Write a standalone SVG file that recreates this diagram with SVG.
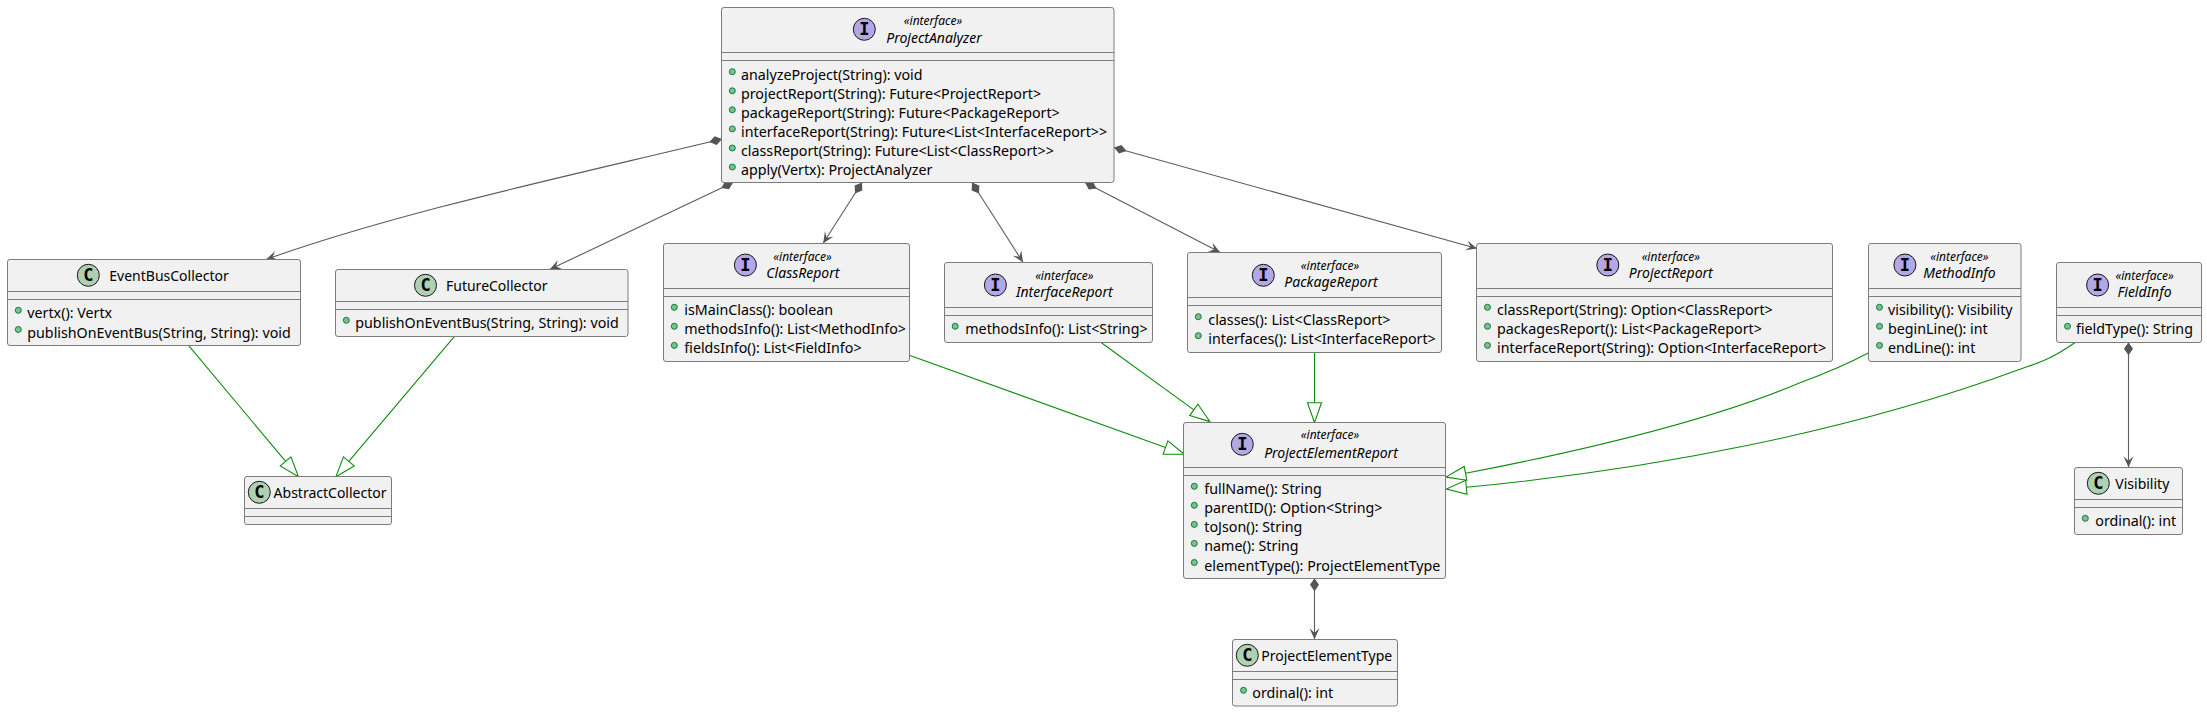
<svg xmlns="http://www.w3.org/2000/svg" width="2207" height="712" viewBox="0 0 2207 712">
<style>
text{font-family:"Noto Sans",sans-serif;font-size:14.25px;fill:#000}
.box{fill:#F1F1F1;stroke:#7c7c7c;stroke-width:1}
.sep{stroke:#7c7c7c;stroke-width:1;fill:none}
.b{fill:#84BE84;stroke:#038048;stroke-width:1}
.ci{fill:#ADD1B2;stroke:#181818;stroke-width:1}
.ii{fill:#B4A7E5;stroke:#181818;stroke-width:1}
text.g{font-family:"DejaVu Sans Mono",monospace;font-weight:bold;font-size:17px;text-anchor:middle}
text.st{font-size:12px;font-style:italic;text-anchor:middle}
text.nm{font-size:14px;font-style:italic;text-anchor:middle}
text.n{font-size:14px}
.comp{fill:none;stroke:#5c5c5c;stroke-width:1.100;marker-start:url(#dia);marker-end:url(#arr)}
.ext{fill:none;stroke:#0c8c0c;stroke-width:1.100;marker-end:url(#tri)}
</style>
<defs>
<marker id="dia" markerUnits="userSpaceOnUse" markerWidth="14" markerHeight="10" refX="0" refY="5" orient="auto" overflow="visible"><path d="M0,5L6.500,0.500L13,5L6.500,9.500Z" fill="#555"/></marker>
<marker id="arr" markerUnits="userSpaceOnUse" markerWidth="12" markerHeight="12" refX="11" refY="6" orient="auto" overflow="visible"><path d="M11,6L0,1L4.500,6L0,11Z" fill="#555"/></marker>
<marker id="tri" markerUnits="userSpaceOnUse" markerWidth="22" markerHeight="16" refX="0" refY="8" orient="auto" overflow="visible"><path d="M0,1L20,8L0,15Z" fill="none" stroke="#0c8c0c" stroke-width="1.100"/></marker>
</defs>
<g id="connectors">
<path class="comp" d="M722,139C560,178 400,212 266.400,259.300"/>
<path class="comp" d="M733,182.500L550,269.300"/>
<path class="comp" d="M862,182.500L823.200,243.300"/>
<path class="comp" d="M972,182.500L1023,262.300"/>
<path class="comp" d="M1085,182.500L1220,252.300"/>
<path class="comp" d="M1114,147.500L1477,248.500"/>
<path class="comp" d="M1314.500,578.300V639.300"/>
<path class="comp" d="M2128.500,342.300V467.300"/>
<path class="ext" d="M188.500,345.300L285.600,461.400"/>
<path class="ext" d="M454.500,336.300L348.800,461.400"/>
<path class="ext" d="M909.300,355.300L1165.500,447.500"/>
<path class="ext" d="M1100.700,342.300L1193.800,409.900"/>
<path class="ext" d="M1314.500,352.300V402.700"/>
<path class="ext" d="M1868.700,352.700C1840,368 1810,379 1800,382.700C1700,425 1560,455 1465.500,473.300"/>
<path class="ext" d="M2075.500,342.300C2050,360 2040,362 2020,369.300C1850,432 1650,470 1466.300,487.200"/>
</g>
<g id="ProjectAnalyzer">
<rect class="box" x="721.500" y="7.500" width="392.500" height="175" rx="2.500"/>
<path class="sep" d="M721.500,52.500H1114M721.500,60.500H1114"/>
<circle class="ii" cx="864.300" cy="29.300" r="11"/><text class="g" x="864.300" y="35.300">I</text>
<text class="st" x="933" y="25">«interface»</text><text class="nm" x="934" y="42.700">ProjectAnalyzer</text>
<circle class="b" cx="732.300" cy="71.700" r="3"/><text x="741" y="79.500">analyzeProject(String): void</text>
<circle class="b" cx="732.300" cy="90.800" r="3"/><text x="741" y="98.600">projectReport(String): Future&lt;ProjectReport&gt;</text>
<circle class="b" cx="732.300" cy="109.800" r="3"/><text x="741" y="117.600">packageReport(String): Future&lt;PackageReport&gt;</text>
<circle class="b" cx="732.300" cy="128.900" r="3"/><text x="741" y="136.700">interfaceReport(String): Future&lt;List&lt;InterfaceReport&gt;&gt;</text>
<circle class="b" cx="732.300" cy="148" r="3"/><text x="741" y="155.800">classReport(String): Future&lt;List&lt;ClassReport&gt;&gt;</text>
<circle class="b" cx="732.300" cy="167" r="3"/><text x="741" y="174.800">apply(Vertx): ProjectAnalyzer</text>
</g>
<g id="EventBusCollector">
<rect class="box" x="7.500" y="259.500" width="293" height="86" rx="2.500"/>
<path class="sep" d="M7.500,291.500H300.500M7.500,299.500H300.500"/>
<circle class="ci" cx="88.300" cy="275.300" r="11"/><text class="g" x="88.300" y="281.300">C</text>
<text class="n" x="109.300" y="280.700">EventBusCollector</text>
<circle class="b" cx="18.300" cy="310.300" r="3"/><text x="27.300" y="318.300">vertx(): Vertx</text>
<circle class="b" cx="18.300" cy="329.500" r="3"/><text x="27.300" y="337.500">publishOnEventBus(String, String): void</text>
</g>
<g id="FutureCollector">
<rect class="box" x="335.500" y="269.500" width="292.500" height="67" rx="2.500"/>
<path class="sep" d="M335.500,301.500H628M335.500,309.500H628"/>
<circle class="ci" cx="425.500" cy="285.300" r="11"/><text class="g" x="425.500" y="291.300">C</text>
<text class="n" x="446" y="290.700">FutureCollector</text>
<circle class="b" cx="346.300" cy="320.300" r="3"/><text x="355.300" y="328.300">publishOnEventBus(String, String): void</text>
</g>
<g id="AbstractCollector">
<rect class="box" x="244.500" y="476.500" width="147" height="48" rx="2.500"/>
<path class="sep" d="M244.500,508.500H391.500M244.500,516.500H391.500"/>
<circle class="ci" cx="259.300" cy="492.300" r="11"/><text class="g" x="259.300" y="498.300">C</text>
<text class="n" x="273.600" y="497.700">AbstractCollector</text>
</g>
<g id="ClassReport">
<rect class="box" x="663.500" y="243.500" width="246" height="118" rx="2.500"/>
<path class="sep" d="M663.500,288.500H909.500M663.500,296.500H909.500"/>
<circle class="ii" cx="745.400" cy="265" r="11"/><text class="g" x="745.400" y="271">I</text>
<text class="st" x="802.500" y="260.700">«interface»</text><text class="nm" x="802.900" y="278.300">ClassReport</text>
<circle class="b" cx="674.300" cy="307.300" r="3"/><text x="684.300" y="315.300">isMainClass(): boolean</text>
<circle class="b" cx="674.300" cy="326.300" r="3"/><text x="684.300" y="334.300">methodsInfo(): List&lt;MethodInfo&gt;</text>
<circle class="b" cx="674.300" cy="345.400" r="3"/><text x="684.300" y="353.400">fieldsInfo(): List&lt;FieldInfo&gt;</text>
</g>
<g id="InterfaceReport">
<rect class="box" x="944.500" y="262.500" width="208" height="80" rx="2.500"/>
<path class="sep" d="M944.500,307.500H1152.500M944.500,315.500H1152.500"/>
<circle class="ii" cx="995.400" cy="285" r="11"/><text class="g" x="995.400" y="291">I</text>
<text class="st" x="1064.300" y="279.700">«interface»</text><text class="nm" x="1064.300" y="297.300">InterfaceReport</text>
<circle class="b" cx="955.200" cy="326.300" r="3"/><text x="965.300" y="334.300">methodsInfo(): List&lt;String&gt;</text>
</g>
<g id="PackageReport">
<rect class="box" x="1187.500" y="252.500" width="254" height="100" rx="2.500"/>
<path class="sep" d="M1187.500,297.500H1441.500M1187.500,305.500H1441.500"/>
<circle class="ii" cx="1263.300" cy="275.300" r="11"/><text class="g" x="1263.300" y="281.300">I</text>
<text class="st" x="1330" y="269.700">«interface»</text><text class="nm" x="1331" y="287.300">PackageReport</text>
<circle class="b" cx="1198.300" cy="316.700" r="3"/><text x="1208.300" y="324.800">classes(): List&lt;ClassReport&gt;</text>
<circle class="b" cx="1198.300" cy="335.700" r="3"/><text x="1208.300" y="343.800">interfaces(): List&lt;InterfaceReport&gt;</text>
</g>
<g id="ProjectReport">
<rect class="box" x="1476.500" y="243.500" width="356" height="118" rx="2.500"/>
<path class="sep" d="M1476.500,288.500H1832.500M1476.500,296.500H1832.500"/>
<circle class="ii" cx="1607.800" cy="265" r="11"/><text class="g" x="1607.800" y="271">I</text>
<text class="st" x="1670.800" y="260.700">«interface»</text><text class="nm" x="1670.800" y="278.300">ProjectReport</text>
<circle class="b" cx="1487.500" cy="307.300" r="3"/><text x="1497" y="315.300">classReport(String): Option&lt;ClassReport&gt;</text>
<circle class="b" cx="1487.500" cy="326.300" r="3"/><text x="1497" y="334.300">packagesReport(): List&lt;PackageReport&gt;</text>
<circle class="b" cx="1487.500" cy="345.400" r="3"/><text x="1497" y="353.400">interfaceReport(String): Option&lt;InterfaceReport&gt;</text>
</g>
<g id="MethodInfo">
<rect class="box" x="1868.500" y="243.500" width="152.500" height="118" rx="2.500"/>
<path class="sep" d="M1868.500,288.500H2021M1868.500,296.500H2021"/>
<circle class="ii" cx="1904.900" cy="265" r="11"/><text class="g" x="1904.900" y="271">I</text>
<text class="st" x="1959.400" y="260.700">«interface»</text><text class="nm" x="1959.400" y="278.300">MethodInfo</text>
<circle class="b" cx="1879.500" cy="307.300" r="3"/><text x="1888" y="315.300">visibility(): Visibility</text>
<circle class="b" cx="1879.500" cy="326.300" r="3"/><text x="1888" y="334.300">beginLine(): int</text>
<circle class="b" cx="1879.500" cy="345.400" r="3"/><text x="1888" y="353.400">endLine(): int</text>
</g>
<g id="FieldInfo">
<rect class="box" x="2056.500" y="262.500" width="145" height="80" rx="2.500"/>
<path class="sep" d="M2056.500,307.500H2201.500M2056.500,315.500H2201.500"/>
<circle class="ii" cx="2097.600" cy="285" r="11"/><text class="g" x="2097.600" y="291">I</text>
<text class="st" x="2144.600" y="279.700">«interface»</text><text class="nm" x="2144.600" y="297.300">FieldInfo</text>
<circle class="b" cx="2067.500" cy="326.300" r="3"/><text x="2076" y="334.300">fieldType(): String</text>
</g>
<g id="ProjectElementReport">
<rect class="box" x="1183.500" y="422.500" width="262" height="156" rx="2.500"/>
<path class="sep" d="M1183.500,467.500H1445.500M1183.500,475.500H1445.500"/>
<circle class="ii" cx="1242.300" cy="444.300" r="11"/><text class="g" x="1242.300" y="450.300">I</text>
<text class="st" x="1330" y="439.300">«interface»</text><text class="nm" x="1331" y="458">ProjectElementReport</text>
<circle class="b" cx="1194.300" cy="486.300" r="3"/><text x="1204.300" y="494.300">fullName(): String</text>
<circle class="b" cx="1194.300" cy="505.300" r="3"/><text x="1204.300" y="513.300">parentID(): Option&lt;String&gt;</text>
<circle class="b" cx="1194.300" cy="524.400" r="3"/><text x="1204.300" y="532.400">toJson(): String</text>
<circle class="b" cx="1194.300" cy="543.400" r="3"/><text x="1204.300" y="551.400">name(): String</text>
<circle class="b" cx="1194.300" cy="562.500" r="3"/><text x="1204.300" y="570.500">elementType(): ProjectElementType</text>
</g>
<g id="ProjectElementType">
<rect class="box" x="1232.500" y="639.500" width="165" height="66.500" rx="2.500"/>
<path class="sep" d="M1232.500,671.500H1397.500M1232.500,679.500H1397.500"/>
<circle class="ci" cx="1247.300" cy="655.300" r="11"/><text class="g" x="1247.300" y="661.300">C</text>
<text class="n" x="1261.300" y="660.700">ProjectElementType</text>
<circle class="b" cx="1243.500" cy="690.300" r="3"/><text x="1252.300" y="698">ordinal(): int</text>
</g>
<g id="Visibility">
<rect class="box" x="2074.500" y="467.500" width="108" height="67" rx="2.500"/>
<path class="sep" d="M2074.500,499.500H2182.500M2074.500,507.500H2182.500"/>
<circle class="ci" cx="2098.300" cy="483.300" r="11"/><text class="g" x="2098.300" y="489.300">C</text>
<text class="n" x="2115.300" y="488.700">Visibility</text>
<circle class="b" cx="2085.300" cy="518.300" r="3"/><text x="2095.300" y="526.300">ordinal(): int</text>
</g>
</svg>
